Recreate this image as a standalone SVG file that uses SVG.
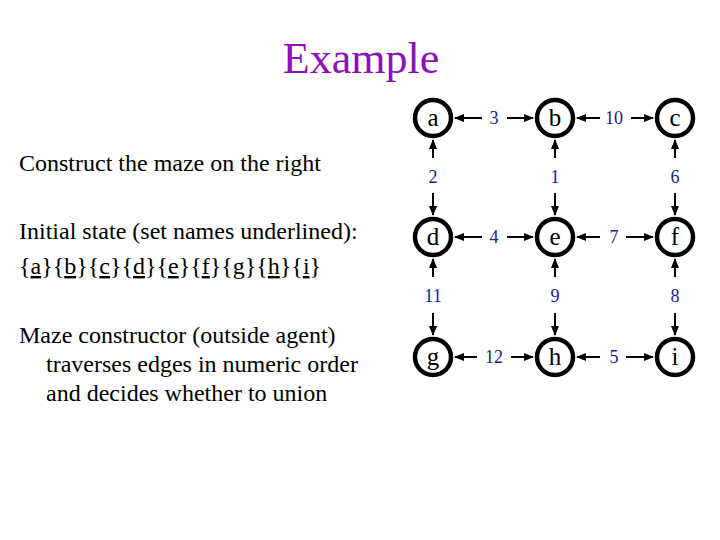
<svg xmlns="http://www.w3.org/2000/svg" width="720" height="540" viewBox="0 0 720 540">
<style>
.t{font-family:"Liberation Serif","Times New Roman",serif;fill:#000;font-size:24px}
.title{font-family:"Liberation Serif","Times New Roman",serif;fill:#8E10B8;font-size:44px}
.node circle{fill:#fff;stroke:#000;stroke-width:4.5}
.node text{font-family:"Liberation Serif","Times New Roman",serif;font-size:25px;fill:#000;text-anchor:middle}
.lbl{font-family:"Liberation Serif","Times New Roman",serif;font-size:18px;fill:#1A1A8C;text-anchor:middle}
.e{stroke:#000;stroke-width:2;fill:none;marker-end:url(#ah)}
.u{text-decoration:underline;text-decoration-skip-ink:none}
</style>
<defs>
<marker id="ah" markerUnits="userSpaceOnUse" markerWidth="10" markerHeight="10" viewBox="0 0 10 10" refX="9" refY="5" orient="auto">
<path d="M0,1 L10,5 L0,9 Z" fill="#000"/>
</marker>
</defs>
<text class="title" x="361" y="73" text-anchor="middle">Example</text>
<text class="t" x="19" y="171">Construct the maze on the right</text>
<text class="t" x="19" y="239">Initial state (set names underlined):</text>
<text class="t" x="19" y="274">{<tspan class="u">a</tspan>}{<tspan class="u">b</tspan>}{<tspan class="u">c</tspan>}{<tspan class="u">d</tspan>}{<tspan class="u">e</tspan>}{<tspan class="u">f</tspan>}{<tspan class="u">g</tspan>}{<tspan class="u">h</tspan>}{<tspan class="u">i</tspan>}</text>
<text class="t" x="19" y="343">Maze constructor (outside agent)</text>
<text class="t" x="46" y="372">traverses edges in numeric order</text>
<text class="t" x="46" y="401">and decides whether to union</text>
<g id="connectors">
<line class="e" x1="482" y1="118" x2="455" y2="118"/><line class="e" x1="507" y1="118" x2="533" y2="118"/>
<line class="e" x1="600" y1="118" x2="577" y2="118"/><line class="e" x1="631" y1="118" x2="653" y2="118"/>
<line class="e" x1="482" y1="237" x2="455" y2="237"/><line class="e" x1="507" y1="237" x2="533" y2="237"/>
<line class="e" x1="600" y1="237" x2="577" y2="237"/><line class="e" x1="626" y1="237" x2="653" y2="237"/>
<line class="e" x1="477" y1="357" x2="455" y2="357"/><line class="e" x1="511" y1="357" x2="533" y2="357"/>
<line class="e" x1="600" y1="357" x2="577" y2="357"/><line class="e" x1="626" y1="357" x2="653" y2="357"/>
<line class="e" x1="433" y1="158" x2="433" y2="140"/><line class="e" x1="433" y1="193" x2="433" y2="215"/>
<line class="e" x1="555" y1="158" x2="555" y2="140"/><line class="e" x1="555" y1="193" x2="555" y2="215"/>
<line class="e" x1="675" y1="158" x2="675" y2="140"/><line class="e" x1="675" y1="193" x2="675" y2="215"/>
<line class="e" x1="433" y1="277" x2="433" y2="259"/><line class="e" x1="433" y1="313" x2="433" y2="335"/>
<line class="e" x1="555" y1="277" x2="555" y2="259"/><line class="e" x1="555" y1="313" x2="555" y2="335"/>
<line class="e" x1="675" y1="277" x2="675" y2="259"/><line class="e" x1="675" y1="313" x2="675" y2="335"/>
<text class="lbl" x="494" y="124">3</text><text class="lbl" x="614" y="124">10</text>
<text class="lbl" x="494" y="243">4</text><text class="lbl" x="614" y="243">7</text>
<text class="lbl" x="494" y="363">12</text><text class="lbl" x="614" y="363">5</text>
<text class="lbl" x="433" y="183">2</text><text class="lbl" x="555" y="183">1</text><text class="lbl" x="675" y="183">6</text>
<text class="lbl" x="433" y="302">11</text><text class="lbl" x="555" y="302">9</text><text class="lbl" x="675" y="302">8</text>
</g>
<g id="node-a" class="node"><circle cx="433" cy="118" r="18"/><text x="433" y="126">a</text></g>
<g id="node-b" class="node"><circle cx="555" cy="118" r="18"/><text x="555" y="126">b</text></g>
<g id="node-c" class="node"><circle cx="675" cy="118" r="18"/><text x="675" y="126">c</text></g>
<g id="node-d" class="node"><circle cx="433" cy="237" r="18"/><text x="433" y="245">d</text></g>
<g id="node-e" class="node"><circle cx="555" cy="237" r="18"/><text x="555" y="245">e</text></g>
<g id="node-f" class="node"><circle cx="675" cy="237" r="18"/><text x="675" y="245">f</text></g>
<g id="node-g" class="node"><circle cx="433" cy="357" r="18"/><text x="433" y="365">g</text></g>
<g id="node-h" class="node"><circle cx="555" cy="357" r="18"/><text x="555" y="365">h</text></g>
<g id="node-i" class="node"><circle cx="675" cy="357" r="18"/><text x="675" y="365">i</text></g>
</svg>
